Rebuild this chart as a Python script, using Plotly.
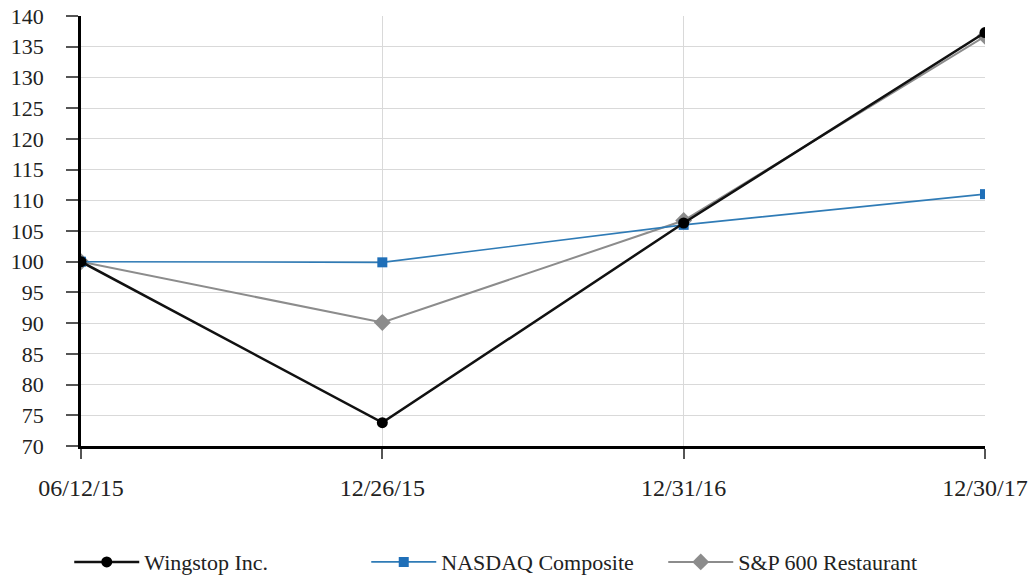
import plotly.graph_objects as go

dates = ["06/12/15", "12/26/15", "12/31/16", "12/30/17"]
wingstop = [100, 73.8, 106.3, 137.3]
nasdaq = [100, 99.9, 106.0, 111.0]
sp600_rest = [100, 90.1, 106.7, 136.7]
y_ticks = list(range(70, 141, 5))

FONT = "'Liberation Serif', 'Times New Roman', Times, 'DejaVu Serif', serif"

fig = go.Figure()
fig.add_trace(go.Scatter(x=dates, y=sp600_rest, name="S&P 600 Restaurant", mode="lines+markers",
                         line=dict(color="#8c8c8c", width=2),
                         marker=dict(symbol="diamond", size=13, color="#8c8c8c")))
fig.add_trace(go.Scatter(x=dates, y=nasdaq, name="NASDAQ Composite", mode="lines+markers",
                         line=dict(color="#2f7bb6", width=1.6),
                         marker=dict(symbol="square", size=10, color="#1f6fb8")))
fig.add_trace(go.Scatter(x=dates, y=wingstop, name="Wingstop Inc.", mode="lines+markers",
                         line=dict(color="#111111", width=2.5),
                         marker=dict(symbol="circle", size=11, color="#000000")))

fig.update_layout(
    width=1032, height=578,
    margin=dict(l=81, r=47, t=16, b=132, autoexpand=False),
    paper_bgcolor="white", plot_bgcolor="white",
    font=dict(family=FONT, size=22, color="#222222"),
    showlegend=True,
    legend=dict(orientation="h", traceorder="reversed", x=-0.013, xanchor="left",
                y=-0.27, yanchor="middle", entrywidth=217, entrywidthmode="pixels",
                itemwidth=65,
                font=dict(family=FONT, size=22, color="#222222")),
)
fig.update_xaxes(type="category", range=[0, 3], showgrid=True, gridcolor="#d9d9d9", gridwidth=1,
                 showline=True, linecolor="#000000", linewidth=2.5,
                 ticks="outside", ticklen=10, tickcolor="#555555", tickwidth=1.5,
                 tickfont=dict(size=24), ticklabelstandoff=8,
                 zeroline=False, automargin=False)
fig.update_yaxes(range=[70, 140], tickvals=y_ticks, showgrid=True, gridcolor="#d9d9d9", gridwidth=1,
                 showline=True, linecolor="#000000", linewidth=2.5,
                 ticks="outside", ticklen=12, tickcolor="#555555", tickwidth=1.5,
                 tickfont=dict(size=22), ticklabelstandoff=18, zeroline=False, automargin=False)

fig.write_html("out.html")
